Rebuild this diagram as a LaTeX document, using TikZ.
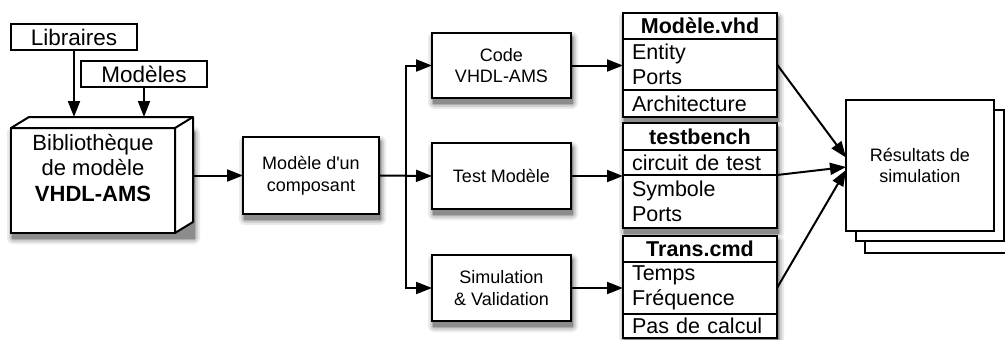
\documentclass[tikz,border=0pt]{standalone}
\usepackage{fontspec}
\setmainfont{Liberation Sans}[Ligatures=TeXOff]
\usetikzlibrary{positioning,arrows.meta,backgrounds}

\newcommand\bigtxt{\fontsize{21.5}{25.5}\selectfont}
\newcommand\smtxt{\fontsize{18}{21.5}\selectfont}
% soft drop shadow behind the box spanned by two anchors
\newcommand\dropshade[2]{%
  \fill[black!8, rounded corners=6pt] ([shift={(-4pt,-11pt)}]#1) rectangle ([shift={(7pt,1pt)}]#2);
  \fill[black!18, rounded corners=4pt] ([shift={(-2pt,-9pt)}]#1) rectangle ([shift={(5pt,-1pt)}]#2);
  \fill[black!32, rounded corners=2pt] ([shift={(0pt,-7pt)}]#1) rectangle ([shift={(3pt,-3pt)}]#2);
  \fill[black!45] ([shift={(1pt,-6pt)}]#1) rectangle ([shift={(2pt,-4pt)}]#2);
}

\tikzset{
  box/.style={draw, fill=white, line width=2pt, inner sep=0pt, outer sep=0pt, align=center},
  cell/.style={box, text width=136pt, inner xsep=9pt, align=left, font=\bigtxt},
  hcell/.style={cell, align=center, font=\bigtxt\bfseries},
  arr/.style={line width=2pt, -{Triangle[length=16pt,width=12pt]}},
}

\begin{document}
\begin{tikzpicture}[x=1pt, y=-1pt]
    \useasboundingbox (0,0) rectangle (1005,340);

    % sources
    \node[box, minimum width=126pt, minimum height=26pt, font=\fontsize{22.5}{26}\selectfont] (libr) at (74,37) {Libraires};
    \node[box, minimum width=126pt, minimum height=26pt, font=\fontsize{22.5}{26}\selectfont] (mods) at (144,74) {Modèles};

    % 3D library block
    \node[box, minimum width=164pt, minimum height=105pt] (biblio) at (93,180.5) {};
    \draw[line width=2pt, fill=white, line join=round] (biblio.north west) -- ++(18,-11) -- ++(164,0) -- ++(0,105)
        -- (biblio.south east) -- (biblio.north east) -- cycle;
    \draw[line width=2pt] (biblio.north east) -- ++(18,-11);
    \node[font=\fontsize{22}{25.5}\selectfont, align=center, inner sep=0pt, below=6pt of biblio.north] (biblioTxt)
        {Bibliothèque\\de modèle\\\textbf{VHDL-AMS}};
    \coordinate (biblioTop) at ([yshift=11pt]biblio.north);
    \coordinate (biblioR) at ([xshift=18pt]biblio.east);

    % steps
    \node[box, minimum width=136pt, minimum height=77pt, font=\smtxt] (comp) at (311,175.5) {Modèle d'un\\composant};
    \node[box, minimum width=139pt, minimum height=65pt, font=\smtxt] (code) at (501.5,65.5) {Code\\VHDL-AMS};
    \node[box, minimum width=139pt, minimum height=66pt, font=\smtxt] (test) at (501.5,176) {Test Modèle};
    \node[box, minimum width=139pt, minimum height=66pt, font=\smtxt] (simu) at (501.5,288) {Simulation\\\& Validation};

    % files
    \node[hcell, minimum height=26pt] (t1h) at (700,26) {Modèle.vhd};
    \node[cell, minimum height=51pt, below=0pt of t1h] (t1b) {Entity\\Ports};
    \node[cell, minimum height=27pt, below=0pt of t1b] (t1c) {Architecture};

    \node[hcell, minimum height=27pt] (t2h) at (700,136.5) {testbench};
    \node[cell, minimum height=25pt, below=0pt of t2h] (t2a) {circuit de test};
    \node[cell, minimum height=53pt, below=0pt of t2a] (t2b) {Symbole\\Ports};

    \node[hcell, minimum height=26pt] (t3h) at (700,249) {Trans.cmd};
    \node[cell, minimum height=52pt, below=0pt of t3h] (t3b) {Temps\\Fréquence};
    \node[cell, minimum height=24pt, below=0pt of t3b] (t3c) {Pas de calcul};

    % results stack
    \node[box, line width=1.6pt, minimum width=148pt, minimum height=131pt] (resC) at (939,187.5) {};
    \node[box, line width=1.6pt, minimum width=148pt, minimum height=131pt] (resB) at (930,175.5) {};
    \node[box, line width=1.6pt, minimum width=148pt, minimum height=131pt, font=\smtxt] (res) at (920,165.5) {Résultats de\\simulation};

    % shadows
    \begin{scope}[on background layer]
        \dropshade{biblio.south west}{biblio.north east -| biblioR}
        \dropshade{comp.south west}{comp.north east}
        \dropshade{code.south west}{code.north east}
        \dropshade{test.south west}{test.north east}
        \dropshade{simu.south west}{simu.north east}
        \dropshade{t1c.south west}{t1h.north east}
        \dropshade{t2b.south west}{t2h.north east}
        \dropshade{t3c.south west}{t3h.north east}
    \end{scope}

    % arrows
    \draw[arr] (libr.south) -- (libr.south |- biblioTop);
    \draw[arr] (mods.south) -- (mods.south |- biblioTop);
    \draw[arr] (biblioR |- comp.west) -- (comp.west);
    \coordinate[right=27pt of comp.east] (fork);
    \draw[arr] (comp.east) -- (test.west);
    \draw[arr] (fork) |- (code.west);
    \draw[arr] (fork) |- (simu.west);
    \draw[arr] (code.east) -- (code.east -| t1b.west);
    \draw[arr] (test.east) -- (test.east -| t2a.west);
    \draw[arr] (simu.east) -- (simu.east -| t3b.west);
    \draw[arr] (t1b.east) -- ([yshift=8pt]res.west);
    \draw[arr] (t2a.south east) -- ([yshift=-1.5pt]res.west);
    \draw[arr] (t3b.east) -- ([yshift=-4.5pt]res.west);
\end{tikzpicture}
\end{document}
